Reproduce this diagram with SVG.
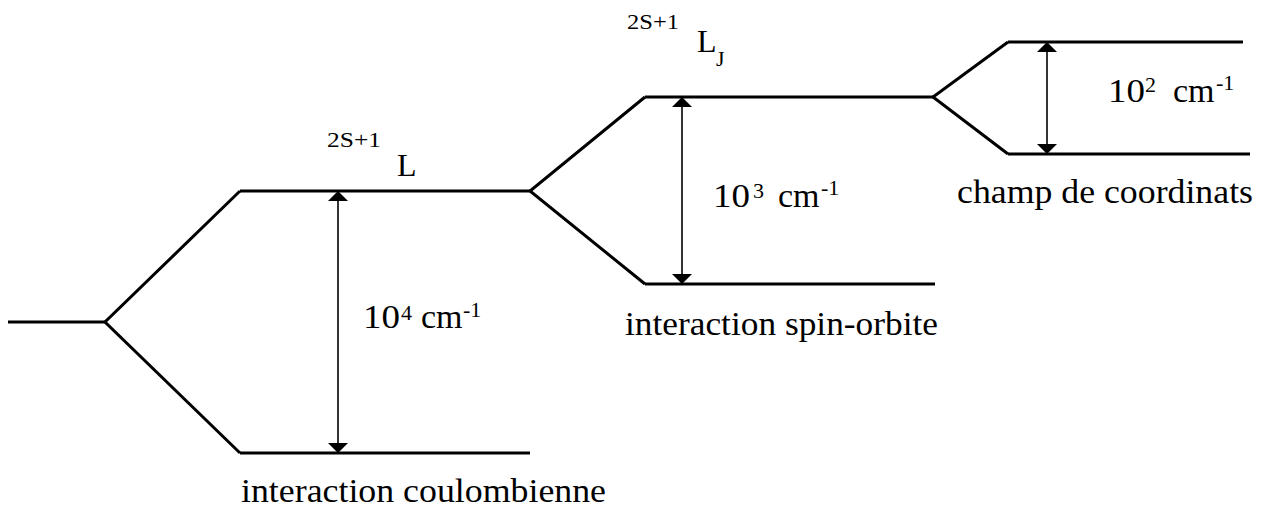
<svg xmlns="http://www.w3.org/2000/svg" width="1270" height="507" viewBox="0 0 1270 507">
<style>
.lvl{stroke:#000;stroke-width:3;fill:none;stroke-linecap:butt}
.br{stroke:#000;stroke-width:3;fill:none;stroke-linejoin:miter}
.gap{stroke:#000;stroke-width:1.6;fill:none;marker-start:url(#ah);marker-end:url(#ah)}
text{font-family:"Liberation Serif","Times New Roman",serif;fill:#000}
.big{font-size:34px}
.sup{font-size:22px}
.term{font-size:32px}
</style>
<defs>
<marker id="ah" viewBox="0 0 10 20" refX="10" refY="10" markerWidth="10" markerHeight="20" markerUnits="userSpaceOnUse" orient="auto-start-reverse">
<path d="M0,0 L10,10 L0,20 z" fill="#000"/>
</marker>
</defs>
<rect width="1270" height="507" fill="#fff"/>

<g id="connectors">
<polyline class="br" points="240,191 105,322 240,453"/>
<polyline class="br" points="645,97 530,191 645,284"/>
<polyline class="br" points="1008,42 933,97 1008,154"/>
<line class="gap" x1="338" y1="191" x2="338" y2="453"/>
<line class="gap" x1="682" y1="97" x2="682" y2="284"/>
<line class="gap" x1="1047" y1="42" x2="1047" y2="154"/>
</g>

<g id="level-initial">
<line class="lvl" x1="8" y1="322" x2="105" y2="322"/>
</g>

<g id="level-L-upper">
<line class="lvl" x1="240" y1="191" x2="530" y2="191"/>
<text class="sup" x="327" y="147" textLength="54" lengthAdjust="spacingAndGlyphs">2S+1</text>
<text class="term" x="397" y="176">L</text>
</g>

<g id="level-L-lower">
<line class="lvl" x1="240" y1="453" x2="530" y2="453"/>
<text class="big" x="241" y="502" textLength="365" lengthAdjust="spacingAndGlyphs">interaction coulombienne</text>
</g>

<g id="gap-1">
<text class="big" x="363" y="328" textLength="37" lengthAdjust="spacingAndGlyphs">10</text>
<text class="sup" x="401" y="320">4</text>
<text class="big" x="421" y="328">cm</text>
<text class="sup" x="463" y="317">-1</text>
</g>

<g id="level-LJ-upper">
<line class="lvl" x1="645" y1="97" x2="933" y2="97"/>
<text class="sup" x="627" y="29" textLength="52" lengthAdjust="spacingAndGlyphs">2S+1</text>
<text class="term" x="697" y="52">L</text>
<text class="sup" x="716" y="66">J</text>
</g>

<g id="level-LJ-lower">
<line class="lvl" x1="645" y1="284" x2="935" y2="284"/>
<text class="big" x="625" y="335" textLength="313" lengthAdjust="spacingAndGlyphs">interaction spin-orbite</text>
</g>

<g id="gap-2">
<text class="big" x="713" y="207" textLength="37" lengthAdjust="spacingAndGlyphs">10</text>
<text class="sup" x="753" y="198">3</text>
<text class="big" x="778" y="207">cm</text>
<text class="sup" x="821" y="195">-1</text>
</g>

<g id="level-cf-upper">
<line class="lvl" x1="1008" y1="42" x2="1243" y2="42"/>
</g>

<g id="level-cf-lower">
<line class="lvl" x1="1008" y1="154" x2="1250" y2="154"/>
<text class="big" x="957" y="203" textLength="296" lengthAdjust="spacingAndGlyphs">champ de coordinats</text>
</g>

<g id="gap-3">
<text class="big" x="1108" y="102" textLength="37" lengthAdjust="spacingAndGlyphs">10</text>
<text class="sup" x="1145" y="92">2</text>
<text class="big" x="1173" y="102">cm</text>
<text class="sup" x="1216" y="90">-1</text>
</g>
</svg>
